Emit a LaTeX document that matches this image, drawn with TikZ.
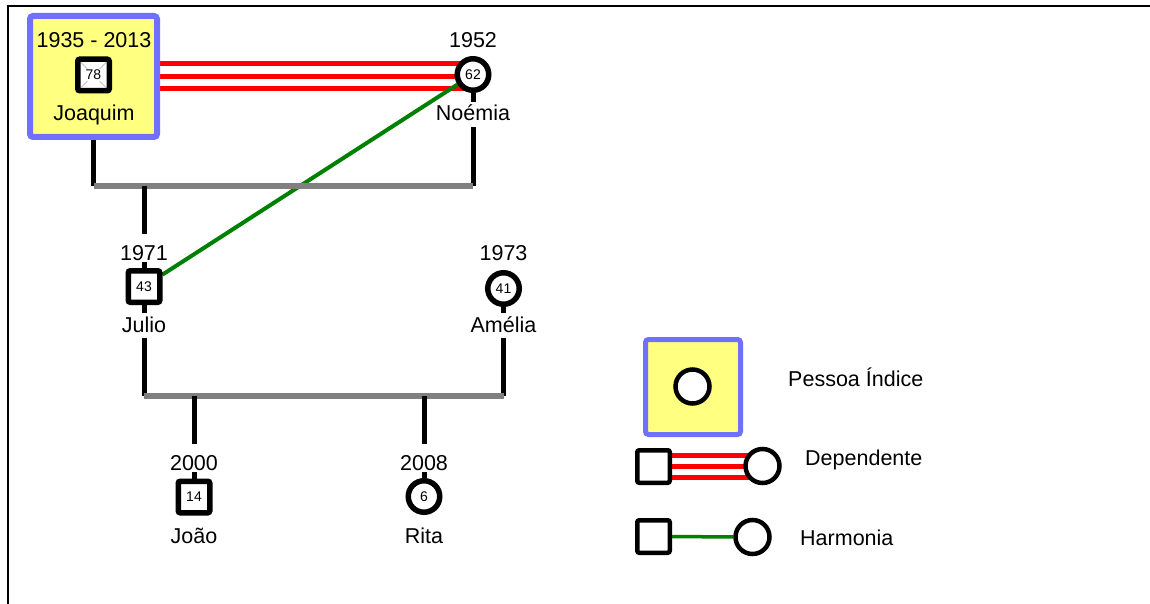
\documentclass[tikz,border=0pt]{standalone}
\usepackage{fontspec}
\setmainfont{Liberation Sans}
\usetikzlibrary{calc}
\pgfdeclarelayer{bg}
\pgfsetlayers{bg,main}
\definecolor{idxblue}{RGB}{112,112,255}
\definecolor{idxyellow}{RGB}{255,255,128}
\definecolor{relred}{RGB}{255,0,0}
\definecolor{relgreen}{RGB}{0,128,0}
\definecolor{sibgray}{RGB}{128,128,128}
\begin{document}
\begin{tikzpicture}[x=1pt,y=-1pt,
  lbl/.style={font=\fontsize{21.5pt}{24pt}\selectfont, inner sep=0pt},
  yearlbl/.style={lbl, fill=white, anchor=base, text height=26pt, text depth=2pt, inner xsep=1pt},
  namelbl/.style={lbl, fill=white, anchor=base, text height=19pt, text depth=6pt, inner xsep=1pt},
  agefont/.style={font=\fontsize{14pt}{14pt}\selectfont},
  male/.style={draw, rectangle, rounded corners=2pt, line width=5.5pt, minimum size=31.5pt, fill=white, inner sep=0pt, agefont},
  female/.style={draw, circle, line width=5.5pt, minimum size=31.5pt, fill=white, inner sep=0pt, agefont},
  lmale/.style={draw, rectangle, rounded corners=2pt, line width=4.5pt, minimum size=32.5pt, fill=white, inner sep=0pt},
  lfemale/.style={draw, circle, line width=4.5pt, minimum size=34pt, fill=white, inner sep=0pt},
  indexbox/.style={draw=idxblue, fill=idxyellow, rounded corners=3pt, inner sep=0pt},
  famline/.style={line width=5pt, black},
  sibline/.style={line width=6pt, sibgray},
  deprel/.style={line width=5pt, relred},
  harmrel/.style={line width=4pt, relgreen}]
\useasboundingbox (0,0) rectangle (1150,604);
% frame
\draw[line width=2pt] (8,604) -- (8,6.5) -- (1150,6.5);

% ---- generation 1
\node[indexbox, line width=6pt, minimum width=127pt, minimum height=121pt] (jbox) at (93.5,76.5) {};
\node[lbl, anchor=base] (jyears) at (94,48) {1935 - 2013};
\node[male] (joaquim) at (93.5,75) {};
\draw[gray!70, line width=0.7pt] ($(joaquim.center)+(-12.5,-12.5)$) -- ($(joaquim.center)+(12.5,12.5)$);
\draw[gray!70, line width=0.7pt] ($(joaquim.center)+(-12.5,12.5)$) -- ($(joaquim.center)+(12.5,-12.5)$);
\node[fill=white, inner sep=1pt, agefont] (jage) at (joaquim) {78};
\node[lbl, anchor=base] (jname) at (94,121) {Joaquim};

\node[female] (noemia) at (473,74.5) {62};
\node[lbl, anchor=base] (nyear) at (473,48) {1952};
\node[namelbl] (nname) at (473,121) {Noémia};

% ---- generation 2
\node[male] (julio) at (144,286.5) {43};
\node[yearlbl] (juyear) at (144,260) {1971};
\node[namelbl] (juname) at (144,332) {Julio};

\node[female] (amelia) at (503.5,288.5) {41};
\node[yearlbl] (ayear) at (503.5,260) {1973};
\node[namelbl] (aname) at (503.5,332) {Amélia};

% ---- generation 3
\node[male] (joao) at (194,497) {14};
\node[yearlbl] (joyear) at (194,470) {2000};
\node[lbl, anchor=base] (joname) at (194,543) {João};

\node[female] (rita) at (424,496.5) {6};
\node[yearlbl] (ryear) at (424,470) {2008};
\node[lbl, anchor=base] (rname) at (424,543) {Rita};

% coordinates of family lines
\coordinate (u1a) at (93.5,186);
\coordinate (u1b) at (473,186);
\coordinate (c1) at (144,186);
\coordinate (u2a) at (144,396);
\coordinate (u2b) at (503.5,396);
\coordinate (c2) at (194,396);
\coordinate (c3) at (424,396);

\begin{pgfonlayer}{bg}
  \foreach \d in {-12.5,0,12.5}
    \draw[deprel] ([yshift=\d pt]jbox.east) -- ([yshift=\d pt]jbox.east -| noemia);
  \draw[harmrel] (noemia) -- (julio);
  \draw[famline] (jbox.south) -- (u1a);
  \draw[famline] (noemia) -- (u1b);
  \draw[sibline] (u1a) -- (u1b);
  \draw[famline] (c1) -- (julio);
  \draw[famline] (julio) -- (u2a);
  \draw[famline] (amelia) -- (u2b);
  \draw[sibline] (u2a) -- (u2b);
  \draw[famline] (c2) -- (joao);
  \draw[famline] (c3) -- (rita);
\end{pgfonlayer}

% ---- legend
\node[indexbox, line width=5pt, minimum size=95pt] (lbox) at (693,387) {};
\node[lfemale] (lcirc) at (692.5,386.5) {};
\node[lbl, anchor=base west] (ltxt1) at (788,386) {Pessoa Índice};

\node[lmale] (dsq) at (653.5,466.5) {};
\node[lfemale] (dci) at (762.5,466) {};
\node[lbl, anchor=base west] (ltxt2) at (805,465.5) {Dependente};

\node[lmale] (hsq) at (653.5,536.5) {};
\node[lfemale] (hci) at (752.5,537) {};
\node[lbl, anchor=base west] (ltxt3) at (800,545) {Harmonia};

\begin{pgfonlayer}{bg}
  \foreach \d in {-11,0,11}
    \draw[line width=4.5pt, relred] ([yshift=\d pt]dsq.east) -- ([yshift=\d pt]dsq.east -| dci);
  \draw[line width=3.5pt, relgreen] (hsq) -- (hci);
\end{pgfonlayer}
\end{tikzpicture}
\end{document}
